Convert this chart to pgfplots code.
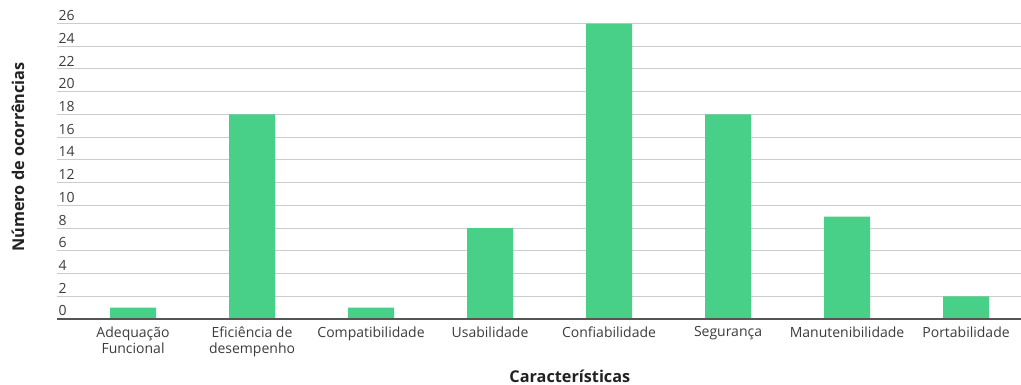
\documentclass[border=0pt]{standalone}
\usepackage{pgfplots}
\pgfplotsset{compat=1.18}
\usepackage{fontspec}
\setmainfont{Open Sans}
\definecolor{barcolor}{RGB}{72,208,137}
\definecolor{gridcolor}{RGB}{204,204,204}
\definecolor{basecolor}{RGB}{85,85,85}
\definecolor{ticktext}{RGB}{60,60,60}
\definecolor{titletext}{RGB}{34,34,34}

\begin{document}
\begin{tikzpicture}[x=1pt,y=1pt]
\useasboundingbox (-42.75pt,-49.5pt) rectangle (723pt,239.25pt);
\begin{axis}[
  at={(0,0)}, anchor=south west,
  scale only axis,
  width=723pt, height=221.6pt,
  xmin=-0.639, xmax=7.462,
  ymin=0, ymax=26,
  ytick={0,2,...,26},
  xtick={0,...,7},
  xticklabels={{Adequação\\Funcional},{Eficiência de\\desempenho},Compatibilidade,Usabilidade,Confiabilidade,Segurança,Manutenibilidade,Portabilidade},
  axis line style={draw=none},
  major tick length=0pt,
  ymajorgrids,
  grid style={gridcolor, line width=0.75pt},
  /pgf/number format/assume math mode=true,
  tick label style={font=\fontsize{10.5}{12.5}\selectfont, text=ticktext},
  xticklabel style={align=center, anchor=north, yshift=-2pt},
  yticklabel style={anchor=south west, inner sep=0pt, xshift=1pt, yshift=2pt},
  xlabel={Características},
  ylabel={Número de ocorrências},
  label style={font=\bfseries\fontsize{12.2}{14}\selectfont, text=titletext},
  xlabel style={at={(axis description cs:0.532,-0.193)}, anchor=center},
  ylabel style={at={(axis description cs:-0.0405,0.548)}, anchor=center, rotate=0},
  clip=false,
]
\addplot[ybar, bar width=34.5pt, fill=barcolor, draw=none]
  coordinates {(0,1) (1,18) (2,1) (3,8) (4,26) (5,18) (6,9) (7,2)};
\draw[basecolor, line width=1.5pt] (axis cs:-0.639,0) -- (axis cs:7.462,0);
\end{axis}
\end{tikzpicture}
\end{document}
